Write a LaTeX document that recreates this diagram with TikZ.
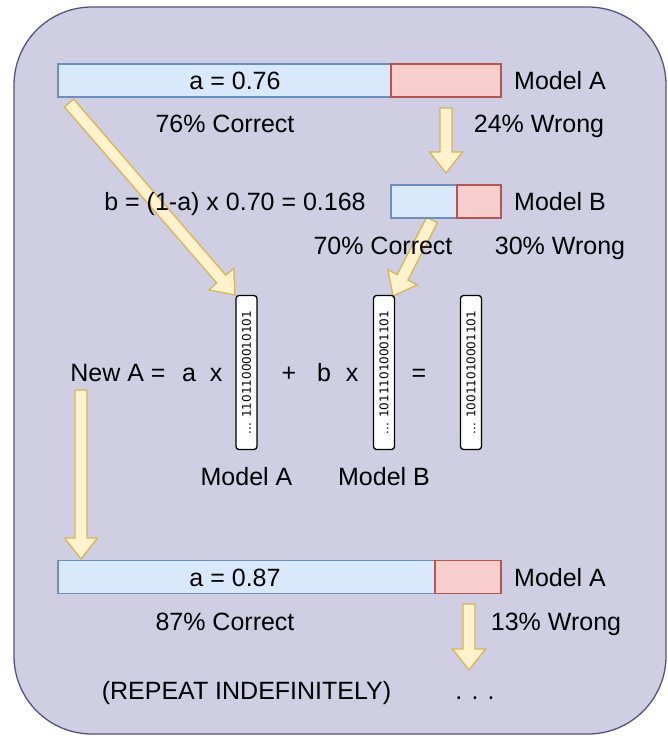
\documentclass[tikz,border=0pt]{standalone}
\usepackage{fontspec}
\setmainfont{Liberation Sans}
\newfontfamily\bitfont{DejaVu Sans}
\usetikzlibrary{calc,positioning}
\definecolor{rahmenfill}{HTML}{D0CEE2}
\definecolor{rahmenline}{HTML}{56517E}
\definecolor{richtigfill}{HTML}{DAE8FC}
\definecolor{richtigline}{HTML}{6C8EBF}
\definecolor{falschfill}{HTML}{F8CECC}
\definecolor{falschline}{HTML}{B85450}
\definecolor{pfeilfill}{HTML}{FFF2CC}
\definecolor{pfeilline}{HTML}{D6B656}
\tikzset{
  balken/.style={line width=1.3pt,minimum height=33pt,inner sep=0pt,outer sep=0pt,anchor=west},
  richtig/.style={balken,draw=richtigline,fill=richtigfill},
  falsch/.style={balken,draw=falschline,fill=falschfill},
  pfeil/.style={draw=pfeilline,fill=pfeilfill,line width=1.3pt,line join=miter},
  vektor/.style={draw=black,fill=white,rounded corners=3pt,line width=1.3pt,rotate=90,
    minimum width=154pt,minimum height=21pt,inner sep=0pt,font=\bitfont\fontsize{12}{14}\selectfont},
  txt/.style={font=\fontsize{25}{30}\selectfont,inner sep=0pt,text height=18pt,text depth=0pt}
}
%Blockpfeil von #1 (Ende) nach #2 (Spitze)
\newcommand{\blockpfeil}[2]{%
  \coordinate (kopf) at ($(#2)!21pt!(#1)$);
  \draw[pfeil] ($(#1)!6pt!90:(#2)$) -- ($(kopf)!6pt!-90:(#1)$) -- ($(kopf)!16.5pt!-90:(#1)$) -- (#2)
    -- ($(kopf)!16.5pt!90:(#1)$) -- ($(kopf)!6pt!90:(#1)$) -- ($(#1)!6pt!-90:(#2)$) -- cycle;
}
\begin{document}
\begin{tikzpicture}[x=1pt,y=-1pt]
\useasboundingbox (0,0) rectangle (668,736);
\draw[draw=rahmenline,fill=rahmenfill,line width=1.3pt,rounded corners=78pt] (14,7) rectangle (666,734);
%Pfeile zuerst, Text liegt darueber
\coordinate (p1s) at (446,108);  \coordinate (p1e) at (446,173);
\coordinate (p2s) at (69,103);   \coordinate (p2e) at (235,295);
\coordinate (p3s) at (432,220);  \coordinate (p3e) at (393,296);
\coordinate (p4s) at (81,390);   \coordinate (p4e) at (81,559);
\coordinate (p5s) at (469,604);  \coordinate (p5e) at (469,670);
\foreach \p in {p1,p2,p3,p4,p5}{
\blockpfeil{\p s}{\p e}
}
%Modell A, erste Runde
\node[richtig,minimum width=333pt] (a1) at (58,80.5) {};
\node[falsch,minimum width=110pt,right=0pt of a1] (a1f) {};
\node[txt] (a1wert) at (235,80.5) {a = 0.76};
\node[txt,right=13pt of a1f] (a1name) {Model A};
\node[txt] (a1r) at (225,123) {76\% Correct};
\node[txt] (a1w) at (539,123) {24\% Wrong};
%Modell B auf den Fehlern von A
\node[richtig,minimum width=66pt] (b) at (391,201.5) {};
\node[falsch,minimum width=44pt,right=0pt of b] (bf) {};
\node[txt] (bwert) at (235,201.5) {b = (1-a) x 0.70 = 0.168};
\node[txt,right=13pt of bf] (bname) {Model B};
\node[txt] (br) at (383,245) {70\% Correct};
\node[txt] (bw) at (560,245) {30\% Wrong};
%Neues A als gewichtete Summe
\node[txt] (neu) at (118,372) {New A =};
\node[txt] (fa) at (189,372) {a};
\node[txt] (x1) at (216,372) {x};
\node[txt] (plus) at (289,372) {+};
\node[txt] (fb) at (324,372) {b};
\node[txt] (x2) at (352,372) {x};
\node[txt] (gleich) at (419,372) {=};
\foreach \name/\xpos/\bits in {vA/246.5/11011000010101,vB/384/10111010001101,vN/471/10011010001101}{
\node[vektor] (\name) at (\xpos,372.5) {... \bits};
}
%west liegt wegen rotate=90 unten
\node[txt] (vAname) at ($(vA.west)+(0,26.5)$) {Model A};
\node[txt] (vBname) at ($(vB.west)+(0,26.5)$) {Model B};
%Modell A, zweite Runde
\node[richtig,minimum width=377pt] (a2) at (58,577) {};
\node[falsch,minimum width=66pt,right=0pt of a2] (a2f) {};
\node[txt] (a2wert) at (235,577) {a = 0.87};
\node[txt,right=13pt of a2f] (a2name) {Model A};
\node[txt] (a2r) at (225,621) {87\% Correct};
\node[txt] (a2w) at (556,621) {13\% Wrong};
\node[txt] (wdh) at (246.5,690) {(REPEAT INDEFINITELY)};
\node[txt] (punkte) at (475,690) {. . .};
\end{tikzpicture}
\end{document}
